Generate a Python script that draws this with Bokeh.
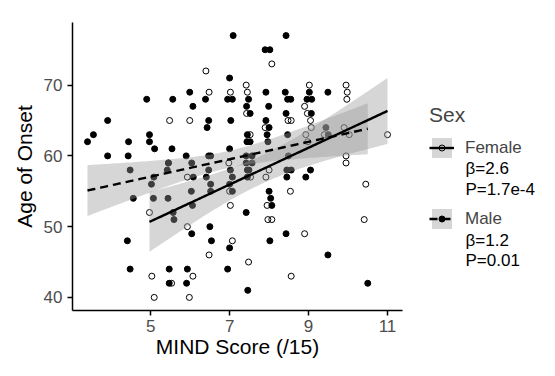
import numpy as np
from bokeh.plotting import figure
from bokeh.layouts import row
from bokeh.models import Range1d, Legend, LegendItem, FixedTicker, Label
from bokeh.embed import file_html
from bokeh.resources import INLINE

# ---- data ----
female_x = [6.40, 8.07, 7.42, 9.02, 9.95, 6.48, 7.02, 7.45, 9.98, 9.97, 8.90, 7.43, 8.97,
            5.48, 5.99, 8.48, 8.56, 9.05, 7.90, 9.07, 9.90, 7.52, 8.93, 9.40, 10.03, 11.00,
            8.98, 9.95, 9.95, 5.45, 6.98, 8.00, 7.53, 7.92, 5.93, 10.45, 7.00, 8.54, 7.02,
            7.95, 4.97, 7.97, 8.07, 10.41, 5.93, 8.90, 7.07, 6.48, 7.48, 5.03, 6.07, 8.56,
            5.53, 5.09, 5.98]
female_age = [72, 73, 70, 70, 70, 69, 69, 69, 69, 68, 67, 66, 66,
              65, 65, 65, 65, 65, 64, 64, 64, 63, 63, 63, 63, 63,
              62, 60, 59, 59, 59, 58, 57, 57, 57, 56, 55, 55, 53,
              53, 52, 51, 51, 51, 50, 49, 48, 46, 45, 43, 43, 43,
              42, 40, 40]

male_x = [7.09, 8.43, 7.90, 8.02, 7.00,
          5.99, 7.92, 8.41, 9.02, 9.49,
          4.90, 5.56, 6.39, 6.95, 7.07, 7.48, 8.47, 8.55, 8.96, 9.08,
          6.07, 7.43, 7.99,
          7.52, 8.43, 9.07,
          3.91, 6.47, 7.03, 7.92,
          6.43, 8.00, 9.44,
          3.55, 4.97, 7.45, 7.95, 8.47, 9.50,
          3.40, 4.44, 4.97, 7.44, 7.52, 7.97,
          5.10, 5.54, 7.00,
          3.91, 4.43, 5.90, 6.47, 6.52, 7.42, 7.57, 8.49,
          5.45, 6.04, 7.42, 7.57,
          4.48, 5.42, 6.47, 7.02, 7.45, 7.49, 8.45, 8.56, 9.05,
          5.08, 6.08, 6.41, 7.07, 7.45, 8.45, 8.93,
          5.02, 6.52, 7.00,
          6.03, 6.52, 7.07, 8.00,
          4.56, 5.07, 5.44, 8.04,
          6.06, 8.07,
          5.57, 7.42,
          5.59,
          6.50,
          6.04, 8.43,
          4.41, 6.54, 8.02,
          7.00,
          9.49,
          4.48, 5.47, 5.93, 6.95,
          5.47, 5.91, 10.50,
          7.46]
male_age = [77, 77, 75, 75, 71,
            69, 69, 69, 69, 69,
            68, 68, 68, 68, 68, 68, 68, 68, 68, 68,
            67, 67, 67,
            66, 66, 66,
            65, 65, 65, 65,
            64, 64, 64,
            63, 63, 63, 63, 63, 63,
            62, 62, 62, 62, 62, 62,
            61, 61, 61,
            60, 60, 60, 60, 60, 60, 60, 60,
            59, 59, 59, 59,
            58, 58, 58, 58, 58, 58, 58, 58, 58,
            57, 57, 57, 57, 57, 57, 57,
            56, 56, 56,
            55, 55, 55, 55,
            54, 54, 54, 54,
            53, 53,
            52, 52,
            51,
            50,
            49, 49,
            48, 48, 48,
            47,
            46,
            44, 44, 44, 44,
            42, 42, 42,
            41]

x_ticks = [5, 7, 9, 11]
y_ticks = [40, 50, 60, 70]

# fitted lines and confidence half-widths
female_fit = dict(intercept=37.75, slope=2.6, se_min=2.0, se_curv=1.74, x_center=7.8)
male_fit = dict(intercept=50.92, slope=1.23, se_min=1.2, se_curv=0.914, x_center=6.95)

sex_levels = ["Female", "Male"]
stat_lines = {"Female": ["β=2.6", "P=1.7e-4"], "Male": ["β=1.2", "P=0.01"]}

FONT = "Liberation Sans"
BAND = dict(fill_color="#999999", fill_alpha=0.4)
LINE_W = 2.4
DASH = "8 5"
PT_F = dict(marker="circle", size=6, fill_color=None, line_color="black", line_width=1)
PT_M = dict(marker="circle", size=6, fill_color="black", line_color="black", line_width=1)

H = 360
TOP, BOTTOM = 22, 49
p = figure(width=410, height=H, output_backend="svg", toolbar_location=None,
           x_range=Range1d(3.02, 11.38), y_range=Range1d(38.15, 78.85),
           min_border_left=72, min_border_right=8, min_border_top=TOP, min_border_bottom=BOTTOM)
p.outline_line_color = None
p.xgrid.visible = False
p.ygrid.visible = False

p.scatter(female_x, female_age, **PT_F)
p.scatter(male_x, male_age, **PT_M)


def fit_curve(xs, fit):
    xs = np.asarray(xs, dtype=float)
    grid = np.linspace(xs.min(), xs.max(), 100)
    mid = fit["intercept"] + fit["slope"] * grid
    half = np.sqrt(fit["se_min"] ** 2 + fit["se_curv"] * (grid - fit["x_center"]) ** 2)
    return grid, mid, mid - half, mid + half


curves = {"Female": fit_curve(female_x, female_fit), "Male": fit_curve(male_x, male_fit)}
for sex in sex_levels:
    g, m, lo, hi = curves[sex]
    p.varea(x=g, y1=lo, y2=hi, **BAND)
for sex in sex_levels:
    g, m, lo, hi = curves[sex]
    p.line(g, m, line_color="black", line_width=LINE_W,
           line_dash="solid" if sex == "Female" else DASH)

for ax in (p.xaxis[0], p.yaxis[0]):
    ax.axis_line_color = "black"
    ax.axis_line_width = 1.5
    ax.major_tick_line_color = "black"
    ax.major_tick_line_width = 1.5
    ax.major_tick_out = 5
    ax.major_tick_in = 0
    ax.minor_tick_line_color = None
    ax.major_label_text_font = FONT
    ax.major_label_text_font_size = "17px"
    ax.major_label_text_color = "#4d4d4d"
    ax.axis_label_text_font = FONT
    ax.axis_label_text_font_size = "21px"
    ax.axis_label_text_font_style = "normal"
    ax.axis_label_text_color = "black"

p.xaxis.ticker = FixedTicker(ticks=x_ticks)
p.yaxis.ticker = FixedTicker(ticks=y_ticks)
p.xaxis.axis_label = "MIND Score (/15)"
p.yaxis.axis_label = "Age of Onset"
p.xaxis.major_label_standoff = 4
p.yaxis.major_label_standoff = 5
p.xaxis.axis_label_standoff = 0
p.yaxis.axis_label_standoff = 5

# ---- legend panel: a second, axis-less figure whose frame lines up with p ----
LW = 539 - 410
lg = figure(width=LW, height=H, output_backend="svg", toolbar_location=None,
            x_range=Range1d(0, 1), y_range=Range1d(0, 1),
            x_axis_type=None, y_axis_type=None,
            min_border_left=0, min_border_right=0, min_border_top=TOP, min_border_bottom=BOTTOM)
lg.outline_line_color = None
lg.xgrid.visible = False
lg.ygrid.visible = False

# key renderers: same series, but outside this panel's ranges (only their legend glyphs show)
keys, key_pts = {}, {}
for sex, xs, ys, pt in (("Female", female_x, female_age, PT_F), ("Male", male_x, male_age, PT_M)):
    g, m, lo, hi = curves[sex]
    keys[sex] = [lg.varea(x=g, y1=lo, y2=hi, **BAND),
                 lg.line(g, m, line_color="black", line_width=LINE_W,
                         line_dash="solid" if sex == "Female" else DASH)]
    key_pts[sex] = [lg.scatter(xs, ys, **pt)]


def style_legend(lgd):
    lgd.label_text_font = FONT
    lgd.label_text_font_size = "17px"
    lgd.padding = 0
    lgd.margin = 0
    lgd.border_line_color = None
    lgd.background_fill_alpha = 0


KEY = 25          # key box size
ITEM_STEP = 70.7  # distance between the tops of the two entries
L_X, L_Y = 19, 79

legend = Legend(items=[LegendItem(label=s, renderers=keys[s]) for s in sex_levels],
                location=(L_X, L_Y))
style_legend(legend)
legend.title = "Sex"
legend.title_text_font = FONT
legend.title_text_font_size = "21px"
legend.title_text_font_style = "normal"
legend.title_standoff = 8
legend.glyph_width = KEY
legend.glyph_height = KEY
legend.label_standoff = 11
legend.spacing = int(round(ITEM_STEP - KEY))
lg.add_layout(legend, "center")

# point keys drawn at their true (small) size on top of the boxes
PK = 15
legend_pts = Legend(items=[LegendItem(label="", renderers=key_pts[s]) for s in sex_levels],
                    location=(L_X + (KEY - PK) // 2, L_Y + (KEY - PK) // 2))
style_legend(legend_pts)
legend_pts.label_text_font_size = "1px"
legend_pts.label_height = 0
legend_pts.label_width = 0
legend_pts.label_standoff = 0
legend_pts.glyph_width = PK
legend_pts.glyph_height = PK
legend_pts.spacing = int(round(ITEM_STEP - PK))
lg.add_layout(legend_pts, "center")

# statistics lines under each legend entry (baselines, px above the frame bottom)
stat_base = {"Female": [142, 121.5], "Male": [70.5, 50]}
for sex in sex_levels:
    for txt, yb in zip(stat_lines[sex], stat_base[sex]):
        lg.add_layout(Label(x=55, y=yb, x_units="screen", y_units="screen", text=txt,
                            text_font=FONT, text_font_size="17px", text_color="black",
                            text_baseline="alphabetic"))

open("out.html", "w").write(file_html(row(p, lg, spacing=0), INLINE))
